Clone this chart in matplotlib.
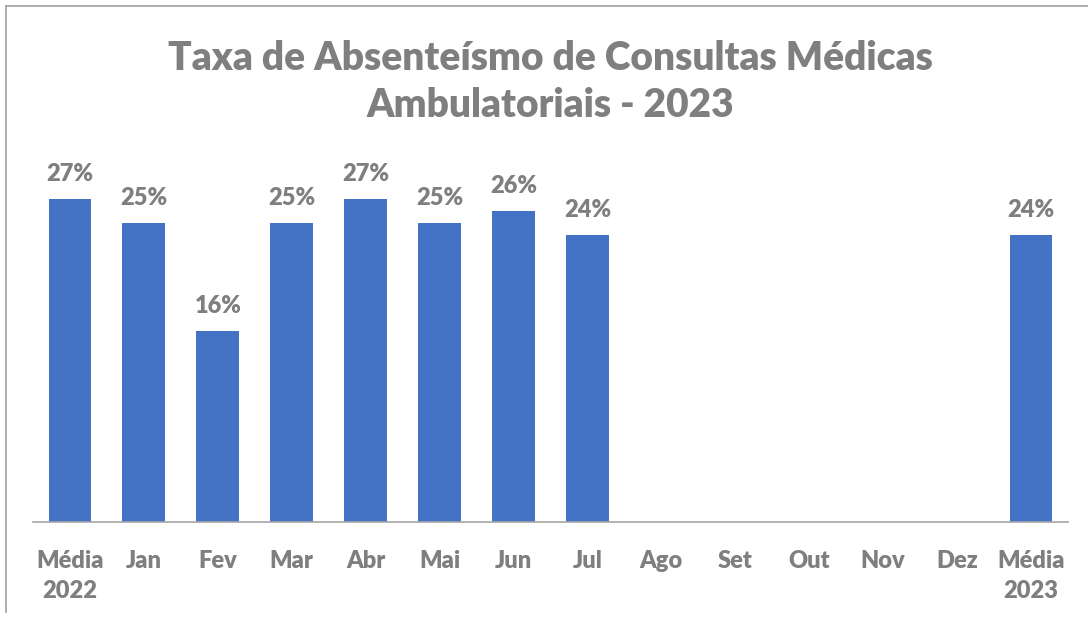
import matplotlib.pyplot as plt
from matplotlib.lines import Line2D

categories = ["Média\n2022", "Jan", "Fev", "Mar", "Abr", "Mai", "Jun", "Jul",
              "Ago", "Set", "Out", "Nov", "Dez", "Média\n2023"]
values = [27, 25, 16, 25, 27, 25, 26, 24, None, None, None, None, None, 24]

GRAY = "#7F7F7F"
BLUE = "#4472C4"

plt.rcParams["font.family"] = ["Lato", "DejaVu Sans"]
plt.rcParams["font.weight"] = "bold"

W, H = 1088, 621
fig = plt.figure(figsize=(W / 100, H / 100), dpi=100)
ax = fig.add_axes([33 / W, 1 - 522 / H, (1068 - 33) / W, (522 - 151) / H])

xs = [i for i, v in enumerate(values) if v is not None]
ys = [v for v in values if v is not None]
bars = ax.bar(xs, ys, width=0.58, color=BLUE, zorder=2)
ax.bar_label(bars, labels=[f"{v}%" for v in ys], padding=10,
             color=GRAY, fontsize=17, fontweight="heavy")

ax.set_xlim(-0.5, len(categories) - 0.5)
ax.set_ylim(0, 31)
ax.set_xticks(range(len(categories)))
ax.set_xticklabels(categories, color=GRAY, fontsize=17, fontweight="heavy",
                   linespacing=1.45)
ax.tick_params(axis="x", length=0, pad=20)
ax.set_yticks([])
for s in ["top", "right", "left"]:
    ax.spines[s].set_visible(False)
ax.spines["bottom"].set_color("#A6A6A6")
ax.spines["bottom"].set_linewidth(1.2)

fig.text(0.506, 1 - 82 / H, "Taxa de Absenteísmo de Consultas Médicas\nAmbulatoriais - 2023",
         ha="center", va="center", fontsize=28, fontweight="heavy", color=GRAY,
         linespacing=1.35)

# outer frame (only top and left visible in the screenshot)
fig.add_artist(Line2D([6 / W, 1], [1 - 6 / H, 1 - 6 / H], color="#A0A0A0", lw=1.2))
fig.add_artist(Line2D([6 / W, 6 / W], [1 - 6 / H, 1 - 612 / H], color="#A0A0A0", lw=1.2))

fig.savefig("out.png", dpi=100)
